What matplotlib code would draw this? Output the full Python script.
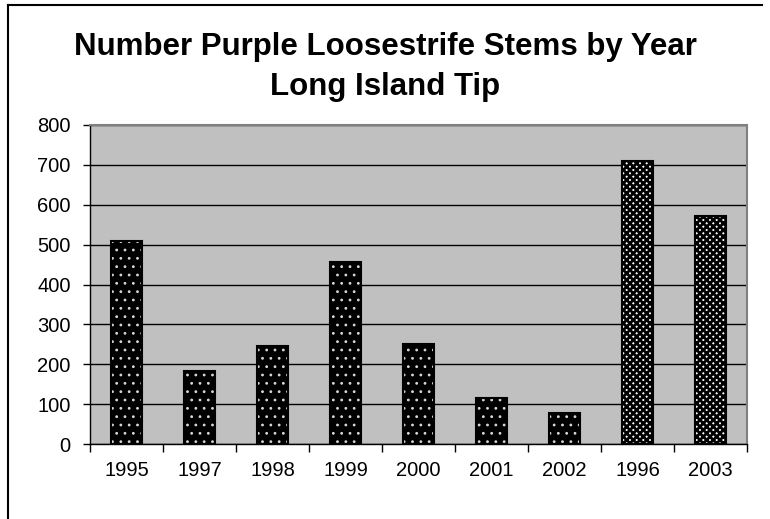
import numpy as np
import matplotlib.pyplot as plt
from matplotlib.lines import Line2D

plt.rcParams['font.family'] = ['Liberation Sans', 'DejaVu Sans']

# data
years = ["1995", "1997", "1998", "1999", "2000", "2001", "2002", "1996", "2003"]
stems = [510, 182, 245, 456, 250, 115, 77, 709, 571]
dotted = [True, True, True, True, True, True, True, False, False]

fig = plt.figure(figsize=(7.7, 5.19), dpi=100)
ax = fig.add_axes([90 / 770, 1 - 444 / 519, 657 / 770, 319 / 519])
ax.set_facecolor("#c0c0c0")


def set_hlw(bars, lw):
    for p in bars:
        if hasattr(p, "set_hatch_linewidth"):
            p.set_hatch_linewidth(lw)


x = np.arange(len(years))
w = 0.43
for xi, v, dot in zip(x, stems, dotted):
    if dot:
        ax.bar(xi, v, width=w, color="black", zorder=3)
        with plt.rc_context({"hatch.linewidth": 0.8}):
            b = ax.bar(xi, v, width=w, facecolor="none", edgecolor="#d8d8d8",
                       hatch="..", linewidth=0, zorder=4)
        set_hlw(b, 0.8)
    else:
        ax.bar(xi, v, width=w, color="white", zorder=3)
        with plt.rc_context({"hatch.linewidth": 2.0}):
            b = ax.bar(xi, v, width=w, facecolor="none", edgecolor="black",
                       hatch="xxxxx", linewidth=0, zorder=4)
        set_hlw(b, 2.0)
    ax.bar(xi, v, width=w, facecolor="none", edgecolor="black",
           linewidth=1.5, zorder=5)

ax.set_xlim(-0.5, len(years) - 0.5)
ax.set_ylim(0, 800)
ax.set_yticks(range(0, 801, 100))
ax.yaxis.grid(True, color="black", linewidth=1)
ax.set_axisbelow(True)

ax.set_xticks(x)
ax.set_xticklabels(years, fontsize=14.5)
ax.tick_params(axis="x", which="major", length=0, pad=12)
ax.set_xticks(np.arange(len(years) + 1) - 0.5, minor=True)
ax.tick_params(axis="x", which="minor", length=6, width=1, color="black")
ax.tick_params(axis="y", labelsize=14.5, length=5, width=1, pad=9)

for s in ["top", "right"]:
    ax.spines[s].set_color("#808080")
    ax.spines[s].set_linewidth(1.5)
for s in ["left", "bottom"]:
    ax.spines[s].set_color("black")
    ax.spines[s].set_linewidth(1)

fig.text(0.5, 1 - 47 / 519, "Number Purple Loosestrife Stems by Year",
         ha="center", va="center", fontsize=22.5, fontweight="bold")
fig.text(0.5, 1 - 87 / 519, "Long Island Tip",
         ha="center", va="center", fontsize=22.5, fontweight="bold")

# outer chart frame (cut off at right and bottom)
fig.add_artist(Line2D([8 / 770, 762 / 770], [1 - 5 / 519, 1 - 5 / 519],
                      color="black", linewidth=1.5))
fig.add_artist(Line2D([8 / 770, 8 / 770], [0, 1 - 5 / 519],
                      color="black", linewidth=1.5))

fig.savefig("out.png", dpi=100)
